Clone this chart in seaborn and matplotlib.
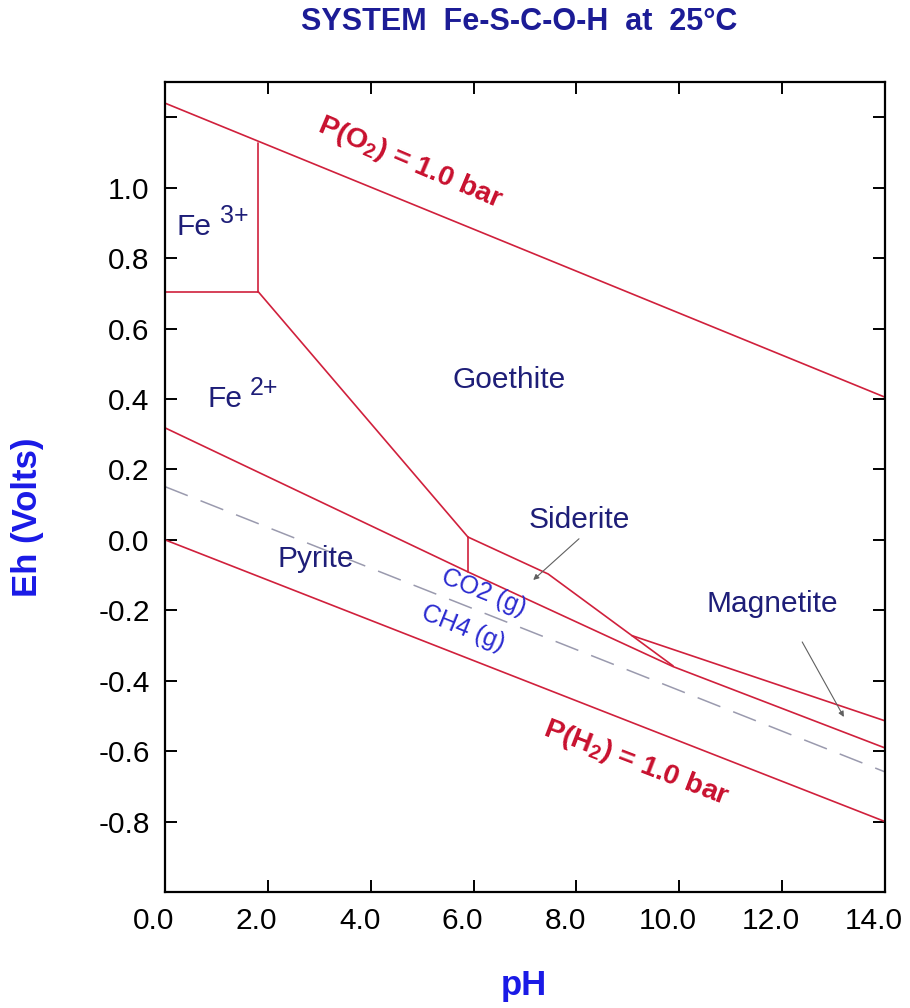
import numpy as np
import pandas as pd
import seaborn as sns
import matplotlib
matplotlib.use("Agg")
import matplotlib.pyplot as plt
import matplotlib.transforms as mtransforms

# boundary lines (pH, Eh in volts)
o2_ph = [0.0, 14.0]
o2_eh = [1.24, 0.405]
h2_ph = [0.0, 14.0]
h2_eh = [0.0, -0.80]
fe3_fe2_ph = [0.0, 1.81]
fe3_fe2_eh = [0.705, 0.705]
fe3_goe_ph = [1.81, 1.81]
fe3_goe_eh = [0.705, 1.128]
fe2_goe_ph = [1.81, 5.89]
fe2_goe_eh = [0.705, 0.008]
fe2_sid_ph = [5.89, 5.89]
fe2_sid_eh = [0.008, -0.091]
goe_sid_ph = [5.89, 7.45, 9.88]
goe_sid_eh = [0.008, -0.097, -0.358]
pyrite_ph = [0.0, 5.89, 9.88, 14.0]
pyrite_eh = [0.318, -0.091, -0.36, -0.591]
magnetite_ph = [9.08, 14.0]
magnetite_eh = [-0.272, -0.514]
co2_ch4_ph = [0.0, 14.0]
co2_ch4_eh = [0.151, -0.659]

x_ticks = [0, 2, 4, 6, 8, 10, 12, 14]
y_ticks = [-1.0, -0.8, -0.6, -0.4, -0.2, 0.0, 0.2, 0.4, 0.6, 0.8, 1.0, 1.2]
y_tick_labels = ["", "-0.8", "-0.6", "-0.4", "-0.2", "0.0", "0.2", "0.4",
                 "0.6", "0.8", "1.0", ""]

# field labels: text, pH, Eh (baseline)
field_names = ["Fe", "Fe", "Goethite", "Siderite", "Pyrite", "Magnetite"]
field_ph = [0.23, 0.82, 6.69, 8.05, 2.94, 11.8]
field_eh = [0.866, 0.378, 0.432, 0.034, -0.077, -0.205]
field_ha = ["left", "left", "center", "center", "center", "center"]

# ion charges written as raised text next to "Fe"
charge_text = ["3+", "2+"]
charge_ph = [1.07, 1.65]
charge_eh = [0.90, 0.412]

sid_arrow_from = (8.05, 0.003)
sid_arrow_to = (7.16, -0.114)
mag_arrow_from = (12.39, -0.29)
mag_arrow_to = (13.2, -0.503)

RED = "#d0203c"
NAVY = "#1e1e78"


def build_boundaries():
    segs = {
        "o2": (o2_ph, o2_eh), "h2": (h2_ph, h2_eh),
        "fe3_fe2": (fe3_fe2_ph, fe3_fe2_eh), "fe3_goe": (fe3_goe_ph, fe3_goe_eh),
        "fe2_goe": (fe2_goe_ph, fe2_goe_eh), "fe2_sid": (fe2_sid_ph, fe2_sid_eh),
        "goe_sid": (goe_sid_ph, goe_sid_eh), "pyrite": (pyrite_ph, pyrite_eh),
        "magnetite": (magnetite_ph, magnetite_eh),
    }
    frames = []
    for name, (ph, eh) in segs.items():
        frames.append(pd.DataFrame({"pH": ph, "Eh": eh, "boundary": name,
                                    "order": np.arange(len(ph))}))
    return pd.concat(frames, ignore_index=True)


sns.set_theme(style="ticks")
plt.rcParams["font.family"] = ["Liberation Sans", "DejaVu Sans"]
plt.rcParams["mathtext.fontset"] = "custom"
plt.rcParams["mathtext.rm"] = "Liberation Sans"
plt.rcParams["mathtext.bf"] = "Liberation Sans:bold"
plt.rcParams["mathtext.default"] = "regular"
plt.rcParams["axes.unicode_minus"] = False

fig = plt.figure(figsize=(9.1, 10.08), dpi=100)
ax = fig.add_axes([165 / 910, 116 / 1008, 720 / 910, 810 / 1008])

df = build_boundaries()
sns.lineplot(data=df, x="pH", y="Eh", units="boundary", estimator=None,
             sort=False, color=RED, lw=1.2, ax=ax, legend=False)
sns.lineplot(x=co2_ch4_ph, y=co2_ch4_eh, color="#9a9aae", lw=1.1,
             ax=ax, legend=False)
ax.lines[-1].set_dashes([16, 9])

ax.set_xlim(0, 14)
ax.set_ylim(-1.0, 1.3)
ax.set_xticks(x_ticks)
ax.set_xticklabels([f"{v:.1f}" for v in x_ticks])
ax.set_yticks(y_ticks)
ax.set_yticklabels(y_tick_labels)
ax.tick_params(direction="in", length=8.5, width=1.4, labelsize=21.5,
               top=True, right=True, pad=11, colors="black")
# x tick labels in the original sit a little left of their ticks
shift = mtransforms.ScaledTranslation(-8 / 72, 0, fig.dpi_scale_trans)
for lab in ax.get_xticklabels():
    lab.set_transform(lab.get_transform() + shift)
for s in ax.spines.values():
    s.set_linewidth(1.6)
    s.set_color("black")
ax.set_xlabel("")
ax.set_ylabel("")

for name, x, y, ha in zip(field_names, field_ph, field_eh, field_ha):
    ax.text(x, y, name, fontsize=21.5, color=NAVY, ha=ha, va="baseline")
for txt, x, y in zip(charge_text, charge_ph, charge_eh):
    ax.text(x, y, txt, fontsize=18, color=NAVY, ha="left", va="baseline")

ax.text(6.2, -0.15, "CO2 (g)", fontsize=18, color="#2a2ad0", rotation=-22,
        ha="center", va="center", rotation_mode="anchor")
ax.text(5.8, -0.25, "CH4 (g)", fontsize=18, color="#2a2ad0", rotation=-22,
        ha="center", va="center", rotation_mode="anchor")

ax.text(4.76, 1.071, "P(O$_2$) = 1.0 bar", fontsize=20.5, fontweight="bold",
        color="#c8102e", rotation=-23, ha="center", va="center",
        rotation_mode="anchor")
ax.text(9.16, -0.634, "P(H$_2$) = 1.0 bar", fontsize=20.5, fontweight="bold",
        color="#c8102e", rotation=-21, ha="center", va="center",
        rotation_mode="anchor")

arrow_kw = dict(arrowstyle="-|>", color="#606060", lw=0.8, mutation_scale=8,
                shrinkA=0, shrinkB=0)
ax.annotate("", xy=sid_arrow_to, xytext=sid_arrow_from, arrowprops=arrow_kw)
ax.annotate("", xy=mag_arrow_to, xytext=mag_arrow_from, arrowprops=arrow_kw)

fig.text(519 / 910, 1 - 22 / 1008, "SYSTEM  Fe-S-C-O-H  at  25\u00b0C",
         fontsize=22, fontweight="bold", color="#1c1c96", ha="center", va="center")
fig.text(28 / 910, 1 - 517 / 1008, "Eh (Volts)", fontsize=25, fontweight="bold",
         color="#1a1ae6", rotation=90, ha="center", va="center")
fig.text(524 / 910, 1 - 985 / 1008, "pH", fontsize=25, fontweight="bold",
         color="#1a1ae6", ha="center", va="center")

fig.savefig("out.png", dpi=100, facecolor="white")
